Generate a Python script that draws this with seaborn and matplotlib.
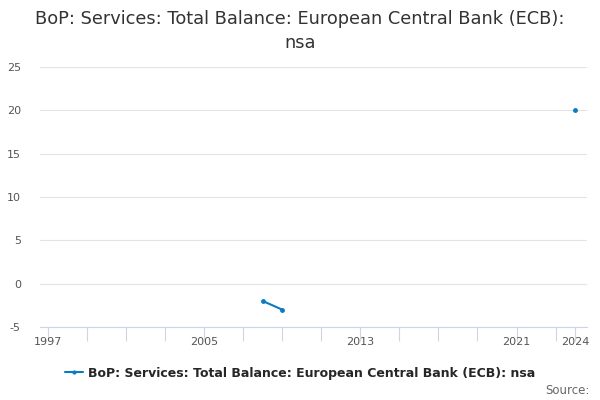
import matplotlib
matplotlib.use("Agg")
import matplotlib.pyplot as plt
import seaborn as sns
import pandas as pd
import numpy as np

# data
years = [2008, 2009, 2024]
values = [-2.0, -3.0, 20.0]
segment = [0, 0, 1]  # gap between 2009 and 2024
series_name = "BoP: Services: Total Balance: European Central Bank (ECB): nsa"
y_ticks = [-5, 0, 5, 10, 15, 20, 25]
x_labels = [1997, 2005, 2013, 2021, 2024]
x_minor = list(range(1997, 2024, 2)) + [2024]

df = pd.DataFrame({"year": years, "value": values, "seg": segment})

sns.set_style("white")
plt.rcParams['font.family'] = ['DejaVu Sans']
color = "#0a7bc1"

fig = plt.figure(figsize=(6, 4), dpi=100)
ax = fig.add_axes([0.067, 0.1825, 0.911, 0.65])

for s, part in df.groupby("seg"):
    sns.lineplot(data=part, x="year", y="value", ax=ax, color=color, lw=1.5,
                 marker="o", markersize=3.5, markeredgewidth=0, legend=False)

ax.set_xlim(1996.6, 2024.6)
ax.set_ylim(-5, 25)
ax.set_yticks(y_ticks)
ax.set_yticklabels([str(v) for v in y_ticks], fontsize=8, color="#555555")
ax.yaxis.grid(True, color="#e3e3e3", lw=0.8)
ax.set_axisbelow(True)
ax.tick_params(axis="y", length=0, pad=14)

ax.set_xticks(x_minor, minor=True)
ax.set_xticks(x_labels)
ax.set_xticklabels([str(v) for v in x_labels], fontsize=8, color="#555555")
ax.tick_params(axis="x", which="both", bottom=True, direction="out", length=10,
               width=0.8, color="#ccd6eb", pad=-3)
ax.set_xlabel("")
ax.set_ylabel("")
for side in ["top", "right", "left"]:
    ax.spines[side].set_visible(False)
ax.spines["bottom"].set_color("#ccd6eb")
ax.spines["bottom"].set_linewidth(0.8)

fig.suptitle("BoP: Services: Total Balance: European Central Bank (ECB):\nnsa",
             fontsize=12.8, color="#333333", y=0.975, linespacing=1.4)

handle = plt.Line2D([], [], color=color, lw=1.5, marker="o", markersize=3,
                    markeredgewidth=0)
fig.legend([handle], [series_name], loc="center", bbox_to_anchor=(0.5, 0.067),
           frameon=False, handlelength=1.4, handletextpad=0.4,
           prop={"weight": "bold", "size": 9})
fig.text(0.982, 0.008, "Source:", ha="right", va="bottom", fontsize=8.5,
         color="#666666")

fig.savefig("out.png", dpi=100)
